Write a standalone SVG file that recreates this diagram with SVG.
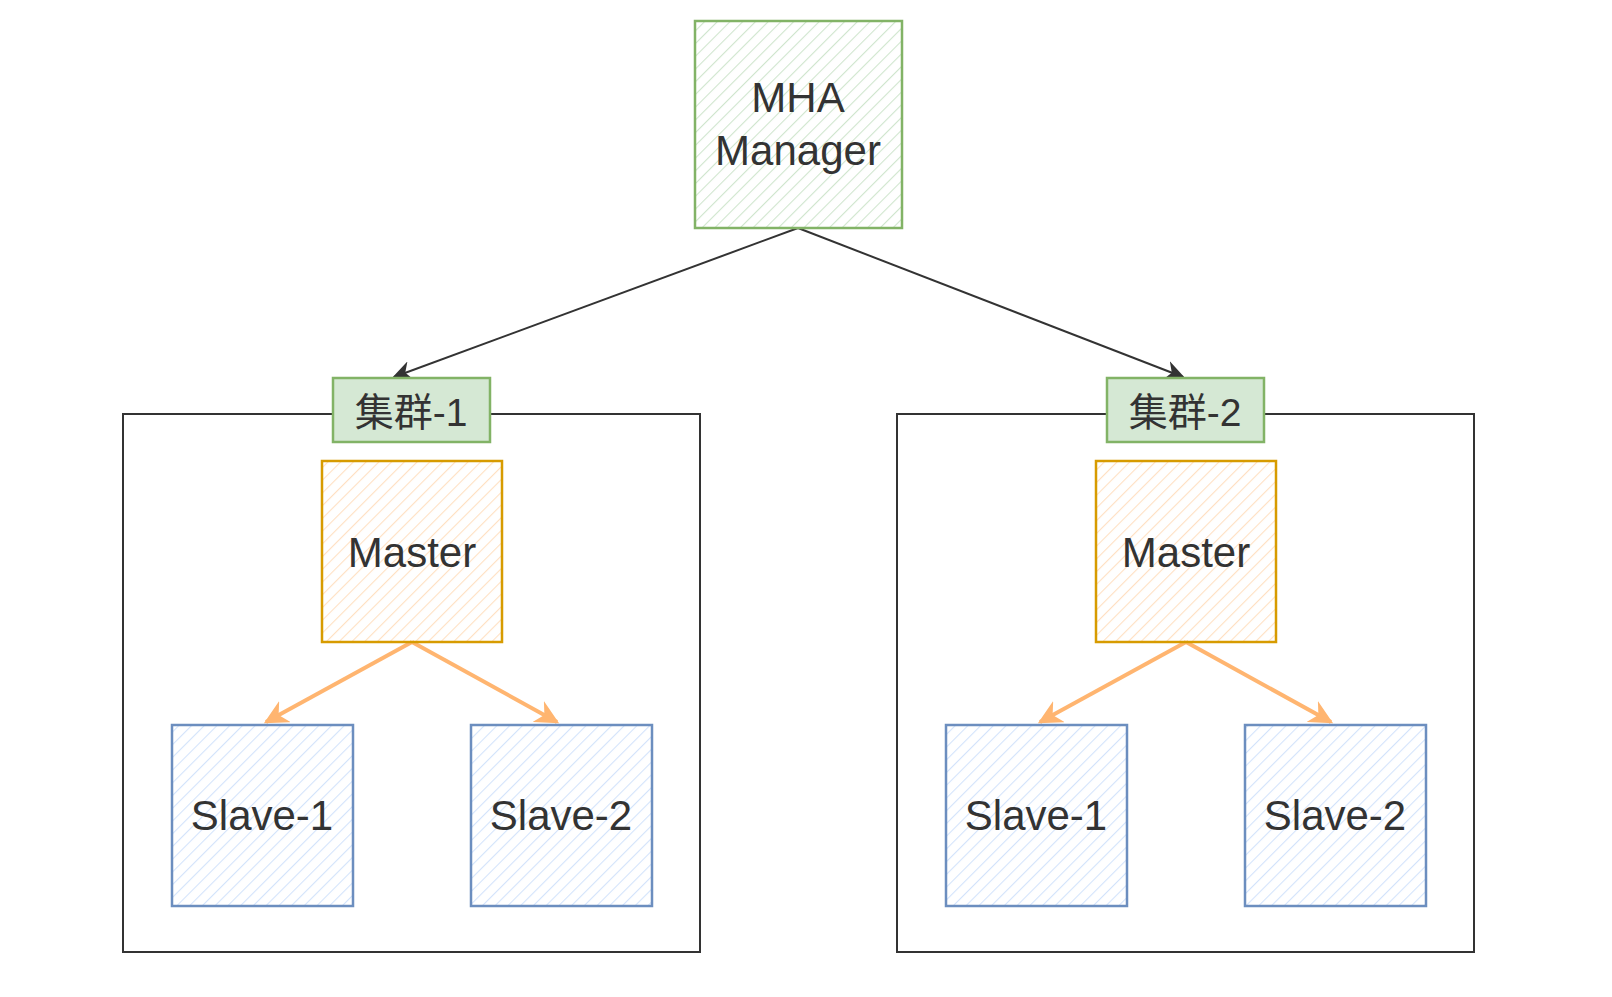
<svg xmlns="http://www.w3.org/2000/svg" width="1612" height="997" viewBox="0 0 1612 997">
<style>
.t{font-family:"Liberation Sans","Noto Sans CJK SC",sans-serif;fill:#333333;text-anchor:middle}
.n{font-size:42px}
.l{font-size:39px}
.box{fill:none;stroke:#333333;stroke-width:2}
.g{stroke:#82b366;stroke-width:2.5}
.o{stroke:#d79b00;stroke-width:2.5}
.b{stroke:#6c8ebf;stroke-width:2.5}
.dk{fill:none;stroke:#333333;stroke-width:2}
.or{fill:none;stroke:#ffb570;stroke-width:4}
</style>
<defs>
<pattern id="hg" patternUnits="userSpaceOnUse" width="9" height="9" patternTransform="rotate(45)"><line x1="0" y1="0" x2="0" y2="9" stroke="#cfe5cd" stroke-width="2.2"/></pattern>
<pattern id="ho" patternUnits="userSpaceOnUse" width="9" height="9" patternTransform="rotate(45)"><line x1="0" y1="0" x2="0" y2="9" stroke="#ffe0c2" stroke-width="2.2"/></pattern>
<pattern id="hb" patternUnits="userSpaceOnUse" width="9" height="9" patternTransform="rotate(45)"><line x1="0" y1="0" x2="0" y2="9" stroke="#d3e3fb" stroke-width="2.2"/></pattern>
<marker id="ad" viewBox="0 0 10 10" refX="9" refY="5" markerWidth="10" markerHeight="10" orient="auto" markerUnits="strokeWidth"><path d="M0,0 L10,5 L0,10 L3,5 Z" fill="#333333"/></marker>
<marker id="ao" viewBox="0 0 10 10" refX="9" refY="5" markerWidth="6" markerHeight="6" orient="auto" markerUnits="strokeWidth"><path d="M0,0 L10,5 L0,10 L3,5 Z" fill="#ffb570"/></marker>
</defs>
<rect width="1612" height="997" fill="#ffffff"/>
<g id="cluster1-box"><rect class="box" x="123" y="414" width="577" height="538"/></g>
<g id="cluster2-box"><rect class="box" x="897" y="414" width="577" height="538"/></g>
<g id="connectors">
<path class="dk" d="M798,228 L394,377" marker-end="url(#ad)"/>
<path class="dk" d="M798,228 L1183,377" marker-end="url(#ad)"/>
<path class="or" d="M412,642 L266,722" marker-end="url(#ao)"/>
<path class="or" d="M412,642 L557,722" marker-end="url(#ao)"/>
<path class="or" d="M1186,642 L1040,722" marker-end="url(#ao)"/>
<path class="or" d="M1186,642 L1331,722" marker-end="url(#ao)"/>
</g>
<g id="mha"><rect x="695" y="21" width="207" height="207" fill="url(#hg)" class="g"/><text class="t n" x="798" y="112">MHA</text><text class="t n" x="798" y="165">Manager</text></g>
<g id="label1"><rect x="333" y="378" width="157" height="64" fill="#d5e8d4" class="g" stroke-width="2"/><text class="t l" x="411" y="426">集群-1</text></g>
<g id="label2"><rect x="1107" y="378" width="157" height="64" fill="#d5e8d4" class="g" stroke-width="2"/><text class="t l" x="1185" y="426">集群-2</text></g>
<g id="master1"><rect x="322" y="461" width="180" height="181" fill="url(#ho)" class="o"/><text class="t n" x="412" y="567">Master</text></g>
<g id="master2"><rect x="1096" y="461" width="180" height="181" fill="url(#ho)" class="o"/><text class="t n" x="1186" y="567">Master</text></g>
<g id="slave1a"><rect x="172" y="725" width="181" height="181" fill="url(#hb)" class="b"/><text class="t n" x="262" y="830">Slave-1</text></g>
<g id="slave2a"><rect x="471" y="725" width="181" height="181" fill="url(#hb)" class="b"/><text class="t n" x="561" y="830">Slave-2</text></g>
<g id="slave1b"><rect x="946" y="725" width="181" height="181" fill="url(#hb)" class="b"/><text class="t n" x="1036" y="830">Slave-1</text></g>
<g id="slave2b"><rect x="1245" y="725" width="181" height="181" fill="url(#hb)" class="b"/><text class="t n" x="1335" y="830">Slave-2</text></g>
</svg>
